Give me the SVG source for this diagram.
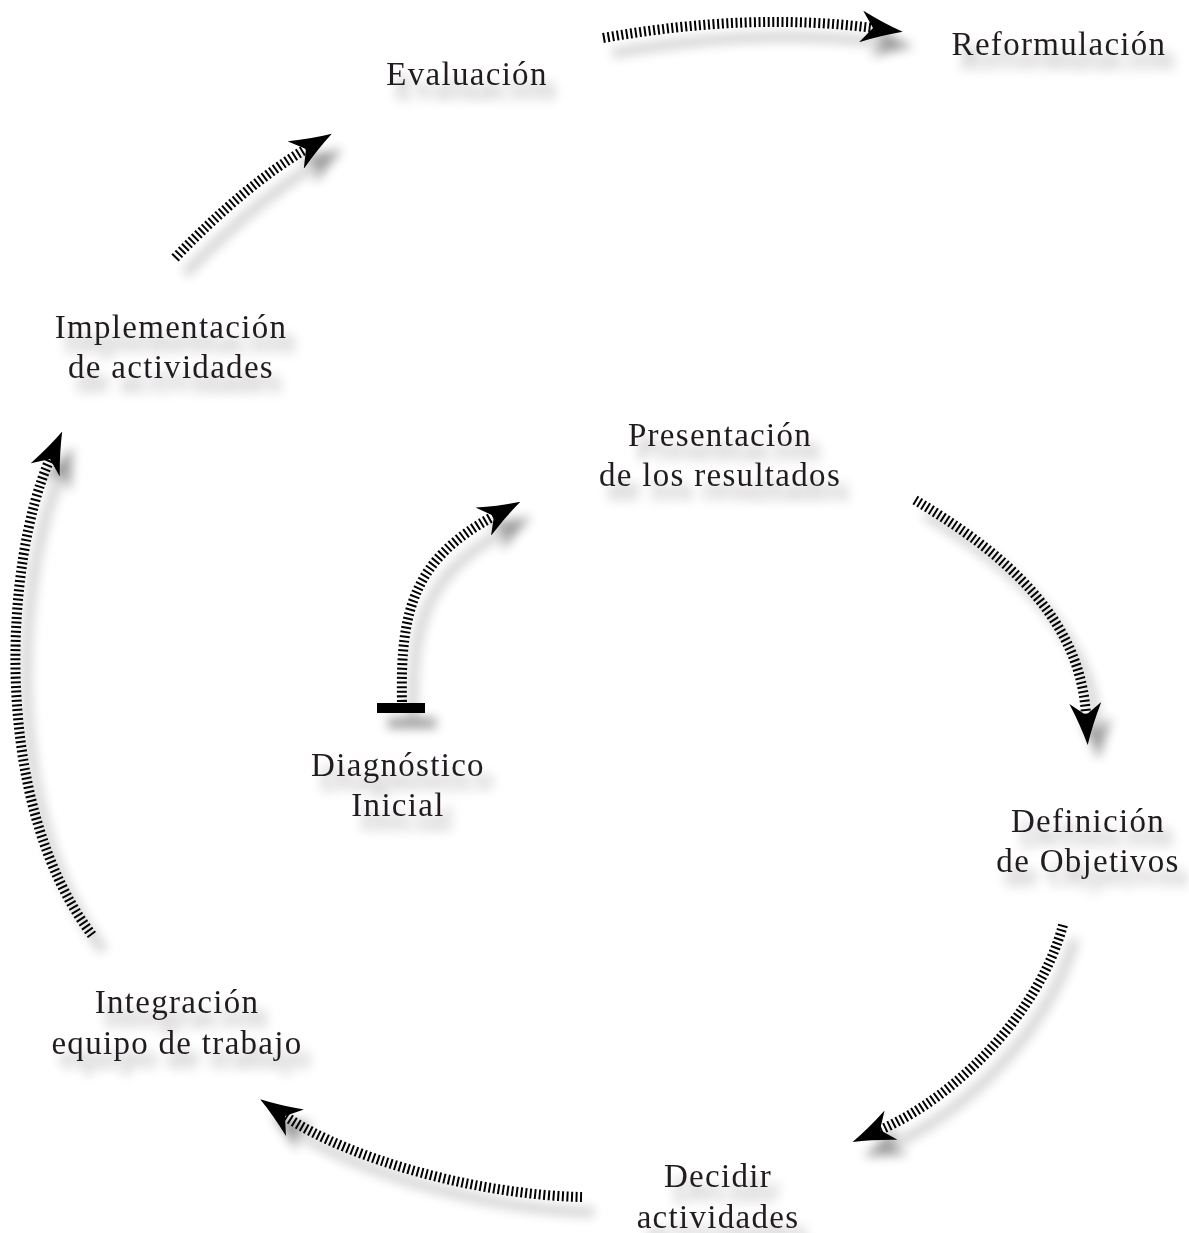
<svg xmlns="http://www.w3.org/2000/svg" width="1189" height="1233" viewBox="0 0 1189 1233">
<style>
.lbl{font-family:"Liberation Serif","Times New Roman",serif;font-size:33px;fill:#231f20;text-anchor:middle;letter-spacing:1.3px}
.conn{fill:none;stroke:#000;stroke-width:10;stroke-dasharray:2 2.6;marker-end:url(#head)}
</style>
<defs>
<filter id="shadow" filterUnits="userSpaceOnUse" x="0" y="0" width="1189" height="1233">
<feGaussianBlur in="SourceAlpha" stdDeviation="5.5"/>
<feOffset dx="11" dy="15"/>
<feComponentTransfer><feFuncA type="linear" slope="0.4"/></feComponentTransfer>
<feMerge><feMergeNode/><feMergeNode in="SourceGraphic"/></feMerge>
</filter>
<filter id="tshadow" filterUnits="userSpaceOnUse" x="0" y="0" width="1189" height="1233">
<feGaussianBlur in="SourceAlpha" stdDeviation="6"/>
<feOffset dx="9" dy="14"/>
<feComponentTransfer><feFuncA type="linear" slope="0.35"/></feComponentTransfer>
<feMerge><feMergeNode/><feMergeNode in="SourceGraphic"/></feMerge>
</filter>
<marker id="head" markerUnits="userSpaceOnUse" viewBox="0 0 42 32" markerWidth="42" markerHeight="32" refX="12" refY="16" orient="auto">
<path d="M0,0 Q22,10 42,16 Q22,22 0,32 L12,16 Z" fill="#000"/>
</marker>
</defs>
<rect width="1189" height="1233" fill="#fff"/>
<g id="connectors" filter="url(#shadow)">
<path id="c1" class="conn" d="M603,38 Q750,12 873,28"/>
<path id="c2" class="conn" d="M175,258 Q245,185 306,149"/>
<g id="c3">
<path class="conn" d="M402,702 C400,610 414,559 494,516"/>
<rect x="377" y="703" width="48" height="10" fill="#000"/>
</g>
<path id="c4" class="conn" d="M915,500 C990,545 1080,610 1086,715"/>
<path id="c5" class="conn" d="M1063,925 C1040,1010 960,1095 880,1130"/>
<path id="c6" class="conn" d="M582,1197 C480,1195 350,1160 285,1116"/>
<path id="c7" class="conn" d="M92,935 C-10,800 5,560 50,459"/>
</g>
<g filter="url(#tshadow)">
<g id="evaluacion"><text class="lbl" x="467" y="85">Evaluación</text></g>
<g id="reformulacion"><text class="lbl" x="1059" y="55">Reformulación</text></g>
<g id="implementacion"><text class="lbl" x="171" y="338">Implementación</text><text class="lbl" x="171" y="378">de actividades</text></g>
<g id="presentacion"><text class="lbl" x="720" y="446">Presentación</text><text class="lbl" x="720" y="486">de los resultados</text></g>
<g id="diagnostico"><text class="lbl" x="398" y="776">Diagnóstico</text><text class="lbl" x="398" y="816">Inicial</text></g>
<g id="definicion"><text class="lbl" x="1088" y="832">Definición</text><text class="lbl" x="1088" y="872">de Objetivos</text></g>
<g id="integracion"><text class="lbl" x="177" y="1013">Integración</text><text class="lbl" x="177" y="1054">equipo de trabajo</text></g>
<g id="decidir"><text class="lbl" x="718" y="1187">Decidir</text><text class="lbl" x="718" y="1228">actividades</text></g>
</g>
</svg>
